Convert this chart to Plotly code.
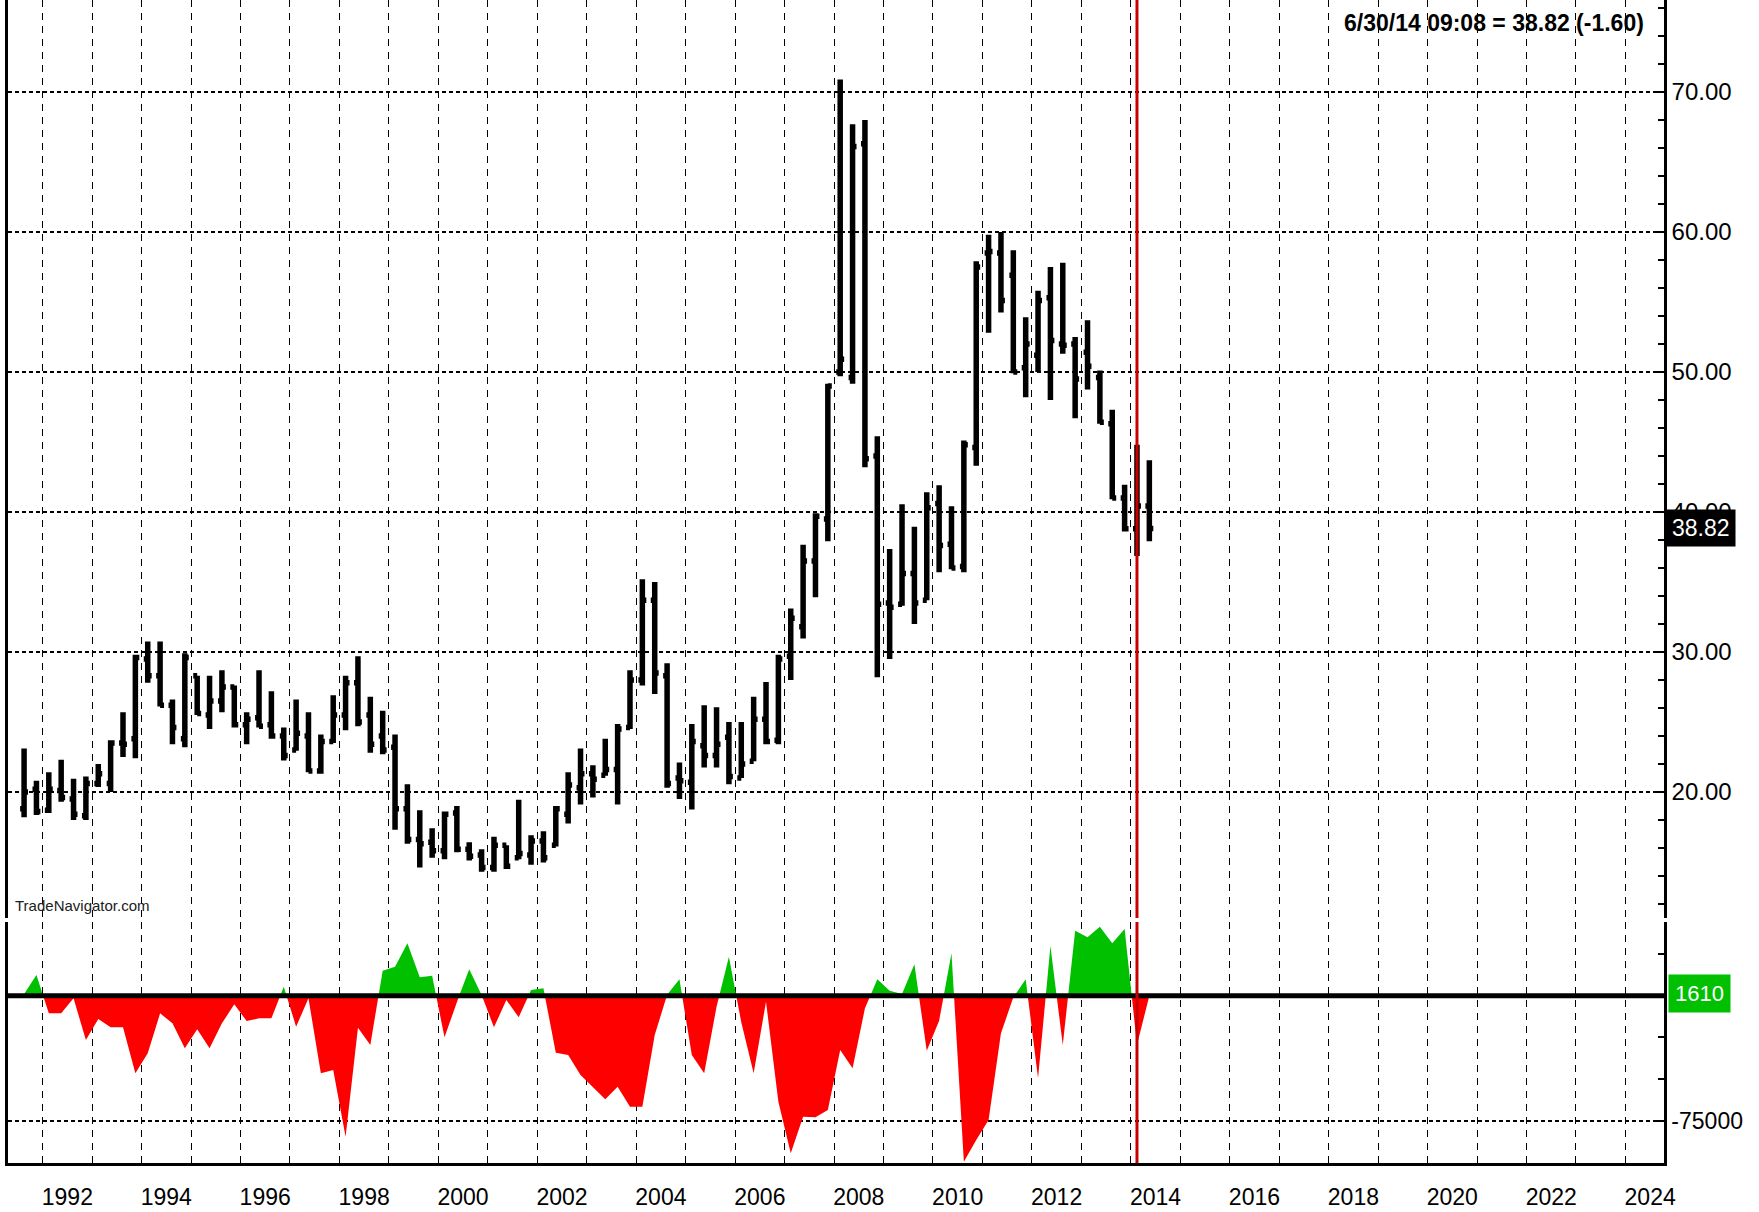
import plotly.graph_objects as go

# ---------------- data ----------------
QUARTERS = [f"{y}Q{q}" for y in range(1991, 2015) for q in range(1, 5)][2:-2]  # 1991Q3 .. 2014Q2

OPEN = [18.8, 20.2, 18.7, 20.1, 19.5, 18.3, 20.6, 20.6, 23.5, 23.8,
        29.5, 28.3, 26.2, 23.8, 28.3, 25.5, 26.5, 27.5, 24.8, 25.3,
        24.8, 24.0, 23.0, 24.0, 21.5, 23.6, 25.5, 27.8, 25.5, 24.0,
        23.2, 18.8, 16.6, 16.4, 15.8, 18.5, 15.9, 15.5, 14.6, 16.2,
        15.3, 15.5, 16.5, 16.2, 18.4, 20.3, 21.3, 21.2, 21.6, 24.6,
        28.0, 33.7, 28.3, 21.0, 20.7, 23.3, 22.6, 23.9, 21.0, 22.2,
        25.2, 23.7, 29.7, 31.8, 36.5, 39.5, 50.0, 49.6, 66.3, 44.0,
        33.5, 33.4, 35.6, 33.7, 40.6, 37.7, 36.1, 44.6, 58.5, 58.5,
        56.9, 50.3, 51.2, 55.3, 52.0, 52.0, 51.4, 49.6, 46.3, 41.0,
        38.8, 40.42]
HIGH = [23.1, 20.8, 21.4, 22.3, 20.95, 21.1, 22.0, 23.7, 25.7, 29.8,
        30.75, 30.75, 26.6, 29.9, 28.3, 28.3, 28.7, 27.6, 25.7, 28.7,
        27.2, 24.6, 26.6, 25.7, 24.1, 26.9, 28.3, 29.7, 26.8, 25.8,
        24.1, 20.55, 18.7, 17.4, 18.6, 19.0, 16.4, 15.9, 16.8, 16.2,
        19.45, 16.9, 17.2, 19.0, 21.4, 23.1, 21.9, 23.8, 24.85, 28.7,
        35.2, 35.0, 29.2, 22.1, 24.85, 26.2, 26.05, 25.0, 25.0, 26.8,
        27.85, 29.8, 33.1, 37.65, 39.9, 49.15, 70.9, 67.7, 68.0, 45.4,
        37.35, 40.55, 38.95, 41.4, 41.9, 40.4, 45.1, 57.9, 59.8, 60.0,
        58.7, 53.9, 55.8, 57.5, 57.8, 52.5, 53.7, 50.1, 47.3, 41.95,
        44.8, 43.7]
LOW = [18.2, 18.35, 18.5, 19.3, 18.0, 18.0, 20.35, 20.0, 22.5, 22.4,
       27.8, 26.1, 23.4, 23.2, 25.5, 24.5, 25.7, 24.6, 23.4, 24.6,
       23.8, 22.25, 22.95, 21.4, 21.3, 23.5, 24.4, 24.7, 22.8, 22.7,
       17.3, 16.3, 14.6, 15.3, 15.2, 15.7, 15.1, 14.3, 14.3, 14.5,
       15.2, 14.8, 14.96, 16.1, 17.75, 19.1, 19.6, 21.15, 19.1, 24.5,
       27.6, 27.0, 20.3, 19.5, 18.75, 21.75, 21.75, 20.55, 21.0, 22.2,
       23.4, 23.4, 28.0, 30.96, 33.9, 37.9, 49.7, 49.15, 43.2, 28.2,
       29.5, 33.3, 32.0, 33.7, 35.7, 35.9, 35.7, 43.3, 52.8, 54.25,
       49.9, 48.2, 50.0, 48.0, 51.3, 46.7, 48.75, 46.3, 40.9, 38.6,
       36.85, 37.9]
CLOSE = [20.0, 18.6, 20.2, 19.6, 18.4, 20.6, 21.3, 23.5, 23.4, 29.6,
         28.3, 26.2, 24.6, 29.6, 25.6, 26.5, 27.5, 24.8, 25.2, 24.7,
         24.0, 22.6, 24.2, 21.5, 23.6, 25.5, 27.8, 25.0, 23.4, 23.0,
         18.8, 16.6, 16.3, 15.8, 18.4, 15.9, 15.4, 14.6, 16.2, 14.7,
         15.6, 16.5, 15.3, 18.8, 20.5, 21.3, 20.9, 21.6, 24.5, 28.0,
         33.7, 28.5, 20.6, 20.8, 23.6, 22.6, 23.4, 21.1, 22.0, 25.2,
         23.6, 29.5, 32.4, 36.5, 39.7, 49.0, 50.9, 66.1, 43.8, 33.4,
         33.2, 35.6, 33.5, 40.3, 37.6, 36.0, 44.8, 57.5, 58.6, 55.1,
         50.0, 52.0, 55.1, 52.25, 51.9, 49.5, 50.4, 46.4, 41.0, 38.8,
         40.42, 38.82]
# net position indicator (lower pane)
NET = [1000, 12400, -10600, -10600, -1600, -26600, -14000, -19000, -19000, -46600,
       -34600, -10600, -16600, -31600, -20200, -31600, -16600, -5200, -15200, -13600,
       -13600, 5400, -18600, -1600, -46600, -44600, -84600, -19200, -29600, 15000,
       17400, 31400, 11000, 12000, -25000, -3600, 15800, 500, -19000, -2600,
       -13000, 3400, 4400, -34200, -35600, -47600, -54600, -62200, -54600, -66600,
       -66600, -23600, 500, 9800, -35600, -46600, -6600, 23400, -16000, -46600,
       -3600, -63600, -94600, -72600, -73000, -68600, -32600, -43600, -7600, 9800,
       3000, 1000, 18800, -33000, -15000, 25400, -99600, -86600, -74600, -22600,
       -1000, 9800, -49600, 29800, -29600, 39000, 35000, 41400, 31400, 40000,
       -29600, 1610]

PRICE_TICKS = [20, 30, 40, 50, 60, 70]
YEAR_LABELS = [str(y) for y in range(1992, 2025, 2)]
TITLE_TEXT = "6/30/14 09:08 = 38.82 (-1.60)"
LAST_PRICE = 38.82
LAST_NET = 1610
MARKER_QUARTER = "2014Q1"

# ---------------- helpers ----------------
def qx(label):
    y, q = label.split("Q")
    return int(y) + (int(q) - 1) * 0.25 + 0.125

X = [qx(q) for q in QUARTERS]

# split indicator into positive / negative parts (insert zero crossings)
xs, pos, neg = [], [], []
for i, (x, v) in enumerate(zip(X, NET)):
    if i > 0:
        x0, v0 = X[i - 1], NET[i - 1]
        if (v0 > 0 > v) or (v0 < 0 < v):
            xc = x0 + (x - x0) * (v0 / (v0 - v))
            xs.append(xc); pos.append(0); neg.append(0)
    xs.append(x); pos.append(max(v, 0)); neg.append(min(v, 0))

FONT = "Liberation Sans, Arial, sans-serif"
GREEN = "#00C000"
RED = "#FF0000"

fig = go.Figure()
fig.add_trace(go.Scatter(x=xs, y=pos, mode="lines", line=dict(width=0, color=GREEN),
                         fill="tozeroy", fillcolor=GREEN, xaxis="x2", yaxis="y2",
                         hoverinfo="skip"))
fig.add_trace(go.Scatter(x=xs, y=neg, mode="lines", line=dict(width=0, color=RED),
                         fill="tozeroy", fillcolor=RED, xaxis="x2", yaxis="y2",
                         hoverinfo="skip"))
fig.add_trace(go.Ohlc(x=X, open=OPEN, high=HIGH, low=LOW, close=CLOSE,
                      increasing=dict(line=dict(color="black", width=5.5)),
                      decreasing=dict(line=dict(color="black", width=5.5)),
                      tickwidth=0.32, xaxis="x", yaxis="y"))

xr = [1991.30, 2024.78]
hgrid = dict(showgrid=True, gridcolor="black", gridwidth=1.6, griddash="4px,3px")
vminor = dict(tickmode="linear", tick0=1992, dtick=1, showgrid=True, gridcolor="black",
              gridwidth=1.3, griddash="7px,6px", ticks="")

fig.update_layout(
    width=1759, height=1212,
    margin=dict(l=8, r=95, t=0, b=49, autoexpand=False),
    paper_bgcolor="white", plot_bgcolor="white",
    showlegend=False, hovermode=False,
    font=dict(family=FONT, color="black"),
    xaxis=dict(domain=[0, 1], range=xr, anchor="y", showticklabels=False,
               tickvals=[], showgrid=False, zeroline=False, showline=False,
               minor=vminor, rangeslider=dict(visible=False), fixedrange=True),
    xaxis2=dict(domain=[0, 1], range=xr, anchor="y2", matches="x",
                tickvals=[int(t) + 0.5 for t in YEAR_LABELS], ticktext=YEAR_LABELS,
                ticks="", showgrid=False, zeroline=False,
                showline=True, linecolor="black", linewidth=3,
                tickfont=dict(size=23, family=FONT), ticklabelstandoff=11,
                minor=vminor, rangeslider=dict(visible=False)),
    yaxis=dict(domain=[0.2107, 1], range=[11.0, 76.57], side="right", anchor="x",
               tickvals=PRICE_TICKS, ticktext=[f"{v:.2f}" for v in PRICE_TICKS],
               ticks="inside", ticklen=8, tickwidth=2, tickcolor="black",
               showline=True, mirror=True, linecolor="black", linewidth=2.5,
               zeroline=False, tickfont=dict(size=24, family=FONT),
               minor=dict(tickmode="linear", tick0=0, dtick=2, ticks="inside",
                          ticklen=6, tickwidth=2, tickcolor="black", showgrid=False),
               **hgrid),
    yaxis2=dict(domain=[0, 0.2072], range=[-100400, 44200], side="right", anchor="x2",
                tickvals=[-75000], ticktext=["-75000"],
                ticks="inside", ticklen=8, tickwidth=2, tickcolor="black",
                showline=True, mirror=True, linecolor="black", linewidth=2.5,
                zeroline=False, tickfont=dict(size=23, family=FONT),
                minor=dict(tickmode="linear", tick0=0, dtick=25000, ticks="inside",
                           ticklen=6, tickwidth=2, tickcolor="black", showgrid=False),
                **hgrid),
)

mx = qx(MARKER_QUARTER)
fig.add_shape(type="line", xref="x2", yref="y2", x0=xr[0], x1=xr[1], y0=0, y1=0,
              line=dict(color="black", width=5), layer="above")
fig.add_shape(type="line", xref="x", yref="y domain", x0=mx, x1=mx, y0=0, y1=1,
              line=dict(color="#C80000", width=3), layer="above")
fig.add_shape(type="line", xref="x2", yref="y2 domain", x0=mx, x1=mx, y0=0, y1=1,
              line=dict(color="#C80000", width=3), layer="above")

fig.add_annotation(text=TITLE_TEXT, xref="paper", yref="paper", x=0.989, y=1,
                   xanchor="right", yanchor="top", yshift=-8, showarrow=False,
                   font=dict(size=23, family=FONT, color="black", weight="bold"))
fig.add_annotation(text="TradeNavigator.com", xref="paper", yref="paper", x=0.003,
                   y=0.2125, xanchor="left", yanchor="bottom", showarrow=False,
                   font=dict(size=15, family=FONT, color="#202020"))
fig.add_annotation(text=f"{LAST_PRICE:.2f}", xref="paper", yref="y", x=1.0, y=LAST_PRICE,
                   xanchor="left", yanchor="middle", xshift=2, showarrow=False,
                   bgcolor="black", borderpad=5,
                   font=dict(size=23, family=FONT, color="white"))
fig.add_annotation(text=f"{LAST_NET}", xref="paper", yref="y2", x=1.0, y=LAST_NET,
                   xanchor="left", yanchor="middle", xshift=4, showarrow=False,
                   bgcolor=GREEN, borderpad=6,
                   font=dict(size=22, family=FONT, color="white"))

fig.write_html("out.html", config={"displayModeBar": False},
               post_script="document.body.style.margin='0';document.body.style.overflow='hidden';")
